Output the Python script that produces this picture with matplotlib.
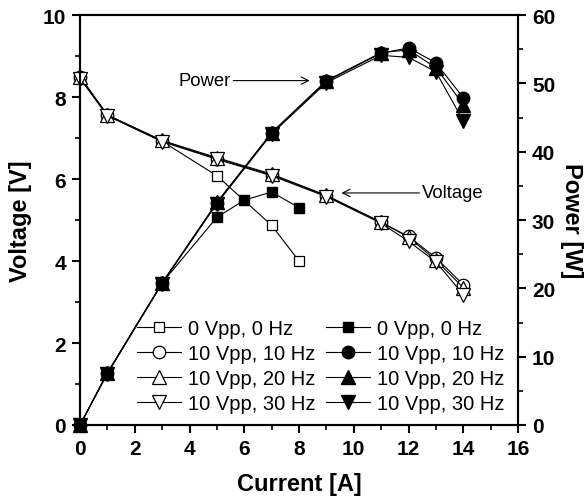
import matplotlib.pyplot as plt
from matplotlib.ticker import MultipleLocator

plt.rcParams['font.family'] = ['Liberation Sans', 'DejaVu Sans']

# Voltage and power vs. current for the different excitation settings
current_0 = [0, 1, 3, 5, 7, 8]
voltage_0 = [8.50, 7.56, 6.92, 6.08, 4.87, 4.00]
current_0_pw = [0, 1, 3, 5, 6, 7, 8]
power_0 = [0, 7.6, 20.8, 30.4, 32.9, 34.1, 31.8]

current = [0, 1, 3, 5, 7, 9, 11, 12, 13, 14]
voltage_10 = [8.48, 7.56, 6.93, 6.50, 6.10, 5.59, 4.94, 4.60, 4.08, 3.42]
voltage_20 = [8.48, 7.56, 6.94, 6.52, 6.12, 5.60, 4.95, 4.58, 4.02, 3.35]
voltage_30 = [8.45, 7.54, 6.91, 6.48, 6.08, 5.57, 4.92, 4.48, 3.98, 3.18]
power_10 = [0, 7.6, 20.8, 32.5, 42.7, 50.3, 54.4, 55.2, 53.0, 47.9]
power_20 = [0, 7.6, 20.8, 32.6, 42.8, 50.4, 54.5, 54.9, 52.3, 46.9]
power_30 = [0, 7.5, 20.7, 32.4, 42.6, 50.1, 54.1, 53.8, 51.7, 44.5]

labels = ['0 Vpp, 0 Hz', '10 Vpp, 10 Hz', '10 Vpp, 20 Hz', '10 Vpp, 30 Hz']

fig = plt.figure(figsize=(5.87, 5.02), dpi=100)
ax = fig.add_axes([0.1363, 0.1514, 0.7462, 0.8167])
ax2 = ax.twinx()

lw = 0.8
common = dict(color='black', lw=lw, clip_on=False, zorder=3)

# voltage curves: open markers
v_handles = []
v_handles += ax.plot(current_0, voltage_0, marker='s', ms=7.5, mfc='white', mec='black', mew=0.9, **common)
v_handles += ax.plot(current, voltage_10, marker='o', ms=9, mfc='white', mec='black', mew=0.9, **common)
v_handles += ax.plot(current, voltage_20, marker='^', ms=10, mfc='white', mec='black', mew=0.9, **common)
v_handles += ax.plot(current, voltage_30, marker='v', ms=10, mfc='white', mec='black', mew=0.9, **common)

# power curves: filled markers
p_handles = []
p_handles += ax2.plot(current_0_pw, power_0, marker='s', ms=7.5, mfc='black', mec='black', **common)
p_handles += ax2.plot(current, power_10, marker='o', ms=9, mfc='black', mec='black', **common)
p_handles += ax2.plot(current, power_20, marker='^', ms=10, mfc='black', mec='black', **common)
p_handles += ax2.plot(current, power_30, marker='v', ms=10, mfc='black', mec='black', **common)

ax.set_xlim(0, 16)
ax.set_ylim(0, 10)
ax2.set_ylim(0, 60)

ax.xaxis.set_major_locator(MultipleLocator(2))
ax.xaxis.set_minor_locator(MultipleLocator(1))
ax.yaxis.set_major_locator(MultipleLocator(2))
ax.yaxis.set_minor_locator(MultipleLocator(1))
ax2.yaxis.set_major_locator(MultipleLocator(10))
ax2.yaxis.set_minor_locator(MultipleLocator(5))

for a in (ax, ax2):
    for s in a.spines.values():
        s.set_linewidth(1.5)
    a.tick_params(which='major', length=6, width=1.5, direction='out',
                  labelsize=15, pad=4)
    a.tick_params(which='minor', length=3.5, width=1.2, direction='out')
    for t in a.get_xticklabels() + a.get_yticklabels():
        t.set_fontweight('bold')
ax.tick_params(top=False, which='both')

ax.set_xlabel('Current [A]', fontsize=17, fontweight='bold', labelpad=10)
ax.set_ylabel('Voltage [V]', fontsize=17, fontweight='bold', labelpad=8)
ax2.set_ylabel('Power [W]', fontsize=17, fontweight='bold', rotation=270, labelpad=20)

# curve annotations
ax2.annotate('Power', xy=(8.39, 50.4), xytext=(5.5, 50.4), fontsize=13.3,
             ha='right', va='center',
             arrowprops=dict(arrowstyle='->', color='black', lw=0.8,
                             shrinkA=0, shrinkB=0))
ax.annotate('Voltage', xy=(9.55, 5.66), xytext=(12.5, 5.66), fontsize=13.3,
            ha='left', va='center',
            arrowprops=dict(arrowstyle='->', color='black', lw=0.8,
                            shrinkA=0, shrinkB=0))

leg = ax2.legend(v_handles + p_handles, labels + labels, ncol=2,
                 loc='upper left', bbox_to_anchor=(0.13, 0.258),
                 frameon=False, fontsize=14.5, handlelength=2.2,
                 handletextpad=0.35, columnspacing=0.5, labelspacing=0.29,
                 borderpad=0, borderaxespad=0)

fig.savefig('out.png', dpi=100)
